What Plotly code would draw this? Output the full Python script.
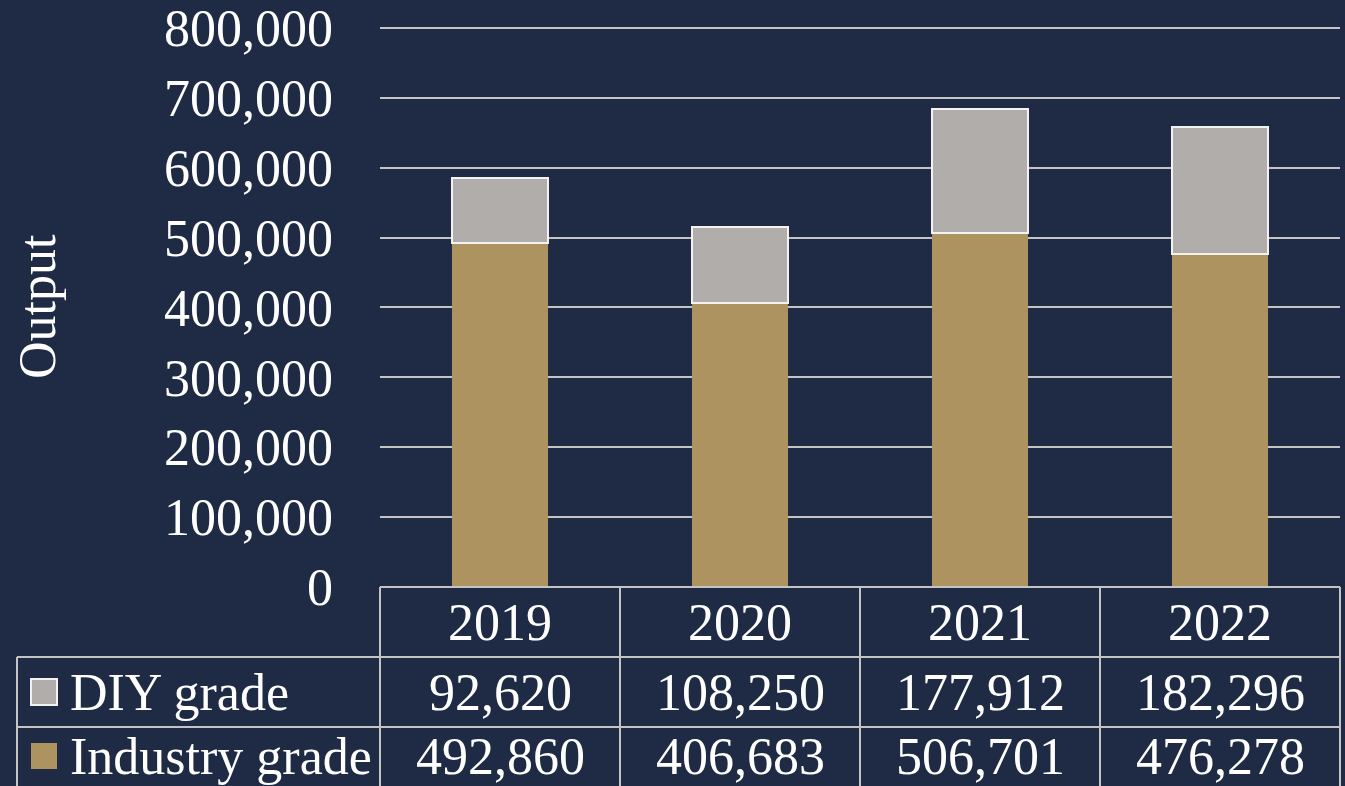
import plotly.graph_objects as go

years = ["2019", "2020", "2021", "2022"]
diy = [92620, 108250, 177912, 182296]
industry = [492860, 406683, 506701, 476278]
series_names = ["DIY grade", "Industry grade"]
y_ticks = [0, 100000, 200000, 300000, 400000, 500000, 600000, 700000, 800000]

BG = "#1f2a44"
GOLD = "#ad935f"
GRAY = "#b0adab"
LINE = "#c4c4c4"
FONT = "Liberation Serif"
FS = 52

W, H = 1345, 786
Y_TOP = 810000
px_per_unit = 559 / 800000
L, R, B = 380, 5, 199
T = round(H - B - Y_TOP * px_per_unit)
plot_w = W - L - R
plot_h = H - T - B


def py(px_below_axis):
    """paper y for a pixel offset below the x-axis baseline"""
    return -px_below_axis / plot_h


fig = go.Figure()
fig.add_trace(go.Bar(x=years, y=industry, name=series_names[1],
                     marker=dict(color=GOLD, line=dict(width=0))))
fig.add_trace(go.Bar(x=years, y=diy, name=series_names[0],
                     marker=dict(color=GRAY, line=dict(color="#f2f2f2", width=2))))

shapes = []
annotations = []

# table horizontal lines
x_left = (17 - L) / plot_w
for k in range(0, 3):
    y = py(70 * k)
    x0 = 0 if k == 0 else x_left
    shapes.append(dict(type="line", xref="paper", yref="paper", x0=x0, x1=1,
                       y0=y, y1=y, line=dict(color=LINE, width=2)))
# table vertical lines
n = len(years)
for i in range(n + 1):
    shapes.append(dict(type="line", xref="paper", yref="paper", x0=i / n, x1=i / n,
                       y0=0, y1=py(210), line=dict(color=LINE, width=2)))
shapes.append(dict(type="line", xref="paper", yref="paper", x0=x_left, x1=x_left,
                   y0=py(70), y1=py(210), line=dict(color=LINE, width=2)))

# header years (x given as category index)
for i, yr in enumerate(years):
    annotations.append(dict(x=i, xref="x", y=py(35), yref="paper", text=yr,
                            showarrow=False, font=dict(family=FONT, size=FS, color="white"),
                            xanchor="center", yanchor="middle"))
# values
row_centers = [105, 169]
rows = [(series_names[0], diy, GRAY, "#f2f2f2"), (series_names[1], industry, GOLD, None)]
for r, (nm, vals, col, border) in enumerate(rows):
    yc = py(row_centers[r])
    for i, v in enumerate(vals):
        annotations.append(dict(x=i, xref="x", y=yc, yref="paper", text=f"{v:,}",
                                showarrow=False, font=dict(family=FONT, size=FS, color="white"),
                                xanchor="center", yanchor="middle"))
    # legend key
    sx0 = (31 - L) / plot_w
    sx1 = (57 - L) / plot_w
    half = 13 / plot_h
    shapes.append(dict(type="rect", xref="paper", yref="paper", x0=sx0, x1=sx1,
                       y0=yc - half, y1=yc + half, fillcolor=col,
                       line=dict(color=border if border else col, width=2 if border else 0)))
    annotations.append(dict(x=(68 - L) / plot_w, xref="paper", y=yc, yref="paper", text=nm,
                            showarrow=False, font=dict(family=FONT, size=FS, color="white"),
                            xanchor="left", yanchor="middle"))

# y-axis title
annotations.append(dict(x=(37 - L) / plot_w, xref="paper", y=py(-280), yref="paper",
                        text="Output", textangle=-90, showarrow=False,
                        font=dict(family=FONT, size=FS, color="white"),
                        xanchor="center", yanchor="middle"))

fig.update_layout(
    width=W, height=H,
    barmode="stack", bargap=0.6,
    paper_bgcolor=BG, plot_bgcolor=BG,
    margin=dict(l=L, r=R, t=T, b=B, autoexpand=False),
    showlegend=False,
    font=dict(family=FONT, size=FS, color="white"),
    shapes=shapes, annotations=annotations,
)
fig.update_xaxes(type="category", range=[-0.5, len(years) - 0.5], showticklabels=False,
                 showgrid=False, zeroline=False, showline=False, automargin=False)
fig.update_yaxes(range=[0, Y_TOP], tickvals=y_ticks, tickformat=",",
                 showgrid=True, gridcolor=LINE, gridwidth=2, zeroline=False,
                 showline=False, ticklabelstandoff=46, automargin=False,
                 tickfont=dict(family=FONT, size=FS, color="white"))

fig.write_html("out.html", config={"displayModeBar": False},
               post_script="document.body.style.margin='0';document.body.style.background='#1f2a44';")
